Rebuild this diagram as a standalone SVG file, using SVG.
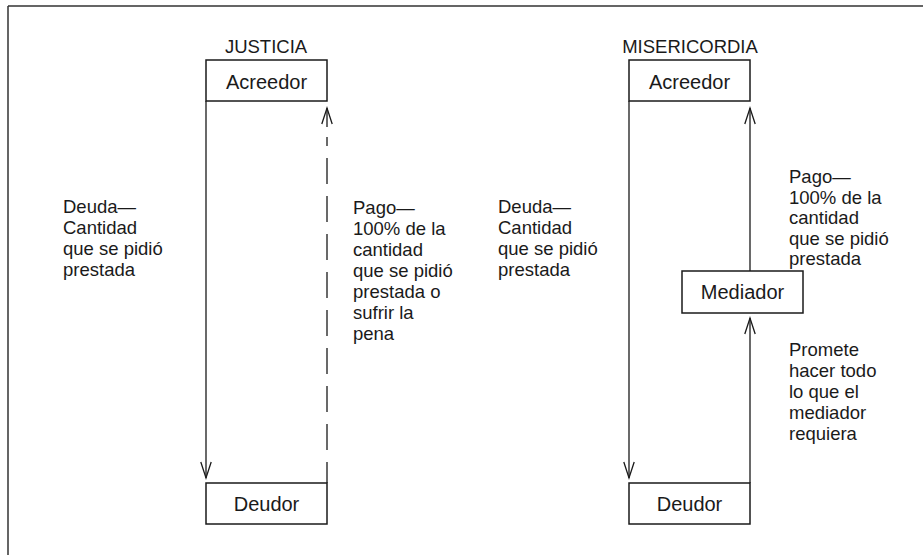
<svg xmlns="http://www.w3.org/2000/svg" width="923" height="555" viewBox="0 0 923 555">
<defs>
<marker id="open" viewBox="-17 -6 18 12" refX="0" refY="0" markerWidth="18" markerHeight="12" markerUnits="userSpaceOnUse" orient="auto-start-reverse" overflow="visible">
<path d="M-16,-5.2 L0,0 L-16,5.2" fill="none" stroke="#1a1a1a" stroke-width="1.3"/>
</marker>
<style>
.box{fill:#fff;stroke:#1a1a1a;stroke-width:1.5}
.lbl{font-family:"Liberation Sans",Arial,sans-serif;font-size:20px;fill:#1a1a1a;text-anchor:middle}
.txt{font-family:"Liberation Sans",Arial,sans-serif;font-size:18.5px;fill:#1a1a1a}
.ttl{font-family:"Liberation Sans",Arial,sans-serif;font-size:18.5px;fill:#1a1a1a;text-anchor:middle}
.ln{fill:none;stroke:#1a1a1a;stroke-width:1.3}
</style>
</defs>
<rect width="923" height="555" fill="#fff"/>
<g id="frame">
<path d="M8,6 H923 M8,6 V555" fill="none" stroke="#333" stroke-width="1.5"/>
</g>
<g id="connectors">
<path class="ln" d="M206,101 V478" marker-end="url(#open)"/>
<path class="ln" d="M327,108 V127" marker-start="url(#open)"/>
<path class="ln" d="M327,483 V137" stroke-dasharray="26 12" stroke-dashoffset="5"/>
<path class="ln" d="M629,101 V478" marker-end="url(#open)"/>
<path class="ln" d="M750,271 V108" marker-end="url(#open)"/>
<path class="ln" d="M750,483 V318" marker-end="url(#open)"/>
</g>
<g id="justicia-title"><text class="ttl" x="266" y="53">JUSTICIA</text></g>
<g id="misericordia-title"><text class="ttl" x="690" y="53">MISERICORDIA</text></g>
<g id="acreedor-j">
<rect class="box" x="206" y="60" width="121" height="41"/>
<text class="lbl" x="266.5" y="89">Acreedor</text>
</g>
<g id="deudor-j">
<rect class="box" x="206" y="483" width="121" height="41"/>
<text class="lbl" x="266.5" y="511">Deudor</text>
</g>
<g id="acreedor-m">
<rect class="box" x="629" y="60" width="121" height="41"/>
<text class="lbl" x="689.5" y="89">Acreedor</text>
</g>
<g id="mediador">
<rect class="box" x="682" y="271" width="121" height="42"/>
<text class="lbl" x="742.5" y="299">Mediador</text>
</g>
<g id="deudor-m">
<rect class="box" x="629" y="483" width="121" height="41"/>
<text class="lbl" x="689.5" y="511">Deudor</text>
</g>
<g id="deuda-j">
<text class="txt" x="63" y="213">Deuda—</text>
<text class="txt" x="63" y="234">Cantidad</text>
<text class="txt" x="63" y="255">que se pidió</text>
<text class="txt" x="63" y="276">prestada</text>
</g>
<g id="pago-j">
<text class="txt" x="353" y="214">Pago—</text>
<text class="txt" x="353" y="235">100% de la</text>
<text class="txt" x="353" y="256">cantidad</text>
<text class="txt" x="353" y="277">que se pidió</text>
<text class="txt" x="353" y="298">prestada o</text>
<text class="txt" x="353" y="319">sufrir la</text>
<text class="txt" x="353" y="340">pena</text>
</g>
<g id="deuda-m">
<text class="txt" x="498" y="213">Deuda—</text>
<text class="txt" x="498" y="234">Cantidad</text>
<text class="txt" x="498" y="255">que se pidió</text>
<text class="txt" x="498" y="276">prestada</text>
</g>
<g id="pago-m">
<text class="txt" x="789" y="183">Pago—</text>
<text class="txt" x="789" y="203.5">100% de la</text>
<text class="txt" x="789" y="224">cantidad</text>
<text class="txt" x="789" y="244.5">que se pidió</text>
<text class="txt" x="789" y="265">prestada</text>
</g>
<g id="promete">
<text class="txt" x="789" y="356">Promete</text>
<text class="txt" x="789" y="377">hacer todo</text>
<text class="txt" x="789" y="398">lo que el</text>
<text class="txt" x="789" y="419">mediador</text>
<text class="txt" x="789" y="440">requiera</text>
</g>
</svg>
